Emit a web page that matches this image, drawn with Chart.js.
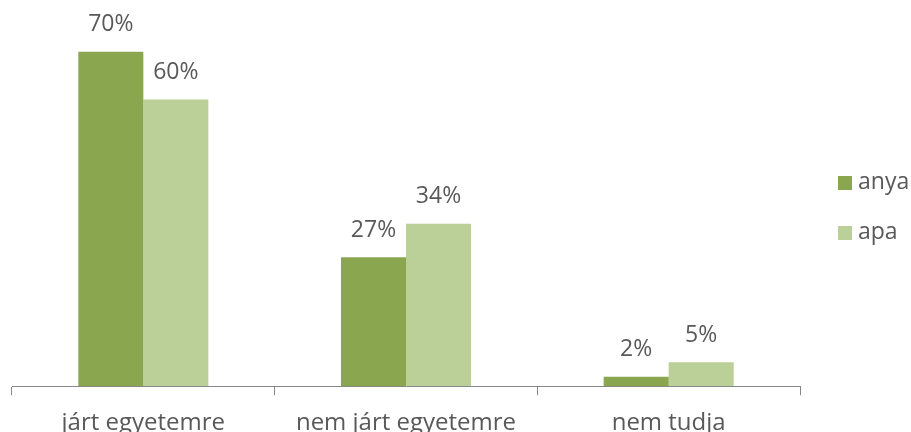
<!DOCTYPE html>
<html><head><meta charset="utf-8">
<script src="https://cdn.jsdelivr.net/npm/chart.js@4/dist/chart.umd.min.js"></script>
<style>
html,body{margin:0;padding:0;background:#fff;overflow:hidden;width:911px;height:432px;}
#wrap{position:relative;width:911px;height:452px;}
</style></head>
<body>
<div id="wrap"><canvas id="c"></canvas></div>
<script>
const categories = ["járt egyetemre", "nem járt egyetemre", "nem tudja"];
const seriesNames = ["anya", "apa"];
const anyaValues = [70, 27, 2];
const apaValues = [60, 34, 5];
const colors = ["#8AA74F", "#BBCF99"];
const FONT = "'Open Sans', sans-serif";
const TEXT = "#595959";

const dataLabels = {
  id: 'dataLabels',
  afterDatasetsDraw(chart) {
    const ctx = chart.ctx;
    ctx.save();
    ctx.font = "23px " + FONT;
    ctx.fillStyle = TEXT;
    ctx.textAlign = "center";
    ctx.textBaseline = "middle";
    chart.data.datasets.forEach((ds, i) => {
      chart.getDatasetMeta(i).data.forEach((bar, j) => {
        ctx.fillText(ds.data[j] + "%", bar.x, bar.y - 27);
      });
    });
    ctx.restore();
  }
};

const customLegend = {
  id: 'customLegend',
  afterDraw(chart) {
    const ctx = chart.ctx;
    ctx.save();
    ctx.font = "23px " + FONT;
    ctx.textAlign = "left";
    ctx.textBaseline = "middle";
    chart.data.datasets.forEach((ds, i) => {
      const cy = 183 + i * 50;
      ctx.fillStyle = ds.backgroundColor;
      ctx.fillRect(838, cy - 7, 14, 14);
      ctx.fillStyle = TEXT;
      ctx.fillText(ds.label, 858, cy - 1);
    });
    ctx.restore();
  }
};

new Chart(document.getElementById('c'), {
  type: 'bar',
  data: {
    labels: categories,
    datasets: [
      { label: seriesNames[0], data: anyaValues, backgroundColor: colors[0] },
      { label: seriesNames[1], data: apaValues, backgroundColor: colors[1] }
    ]
  },
  options: {
    responsive: true,
    maintainAspectRatio: false,
    animation: false,
    categoryPercentage: 0.495,
    barPercentage: 1,
    layout: { padding: { left: 12, right: 111, top: 4, bottom: 0 } },
    plugins: { legend: { display: false }, tooltip: { enabled: false } },
    scales: {
      y: { display: false, min: 0, max: 80 },
      x: {
        border: { display: true, color: '#868686', width: 1 },
        grid: { offset: true, drawOnChartArea: false, drawTicks: true, tickLength: 9, color: '#868686' },
        ticks: { color: TEXT, font: { family: FONT, size: 24 }, padding: 14, maxRotation: 0 }
      }
    }
  },
  plugins: [dataLabels, customLegend]
});
</script>
</body></html>
